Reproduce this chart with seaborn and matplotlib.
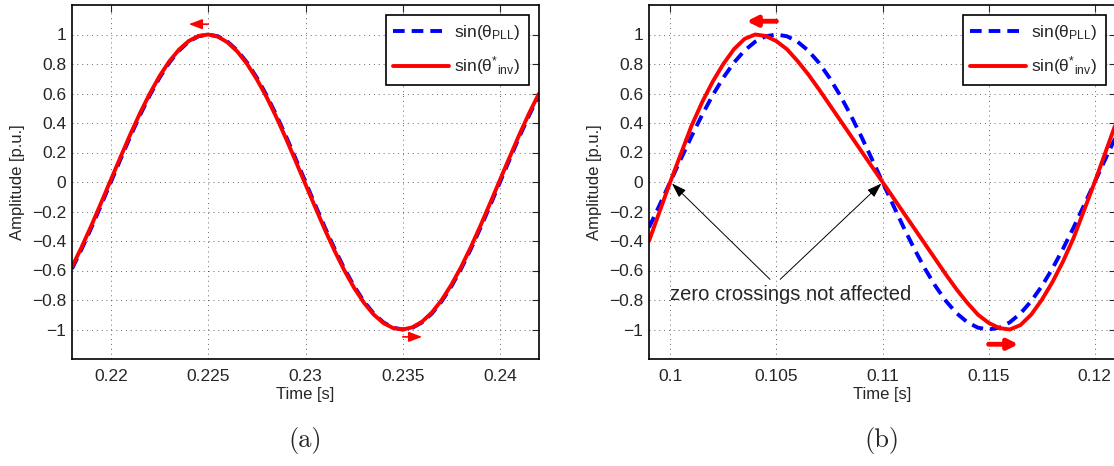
import numpy as np
import pandas as pd
import matplotlib
matplotlib.use('Agg')
import matplotlib.pyplot as plt
import seaborn as sns

sns.set_style('white')
plt.rcParams['font.family'] = ['Liberation Sans', 'DejaVu Sans']
plt.rcParams['mathtext.fontset'] = 'custom'
plt.rcParams['mathtext.rm'] = 'Liberation Sans'
plt.rcParams['mathtext.it'] = 'Liberation Sans:italic'

# panel (a): PLL e inversor praticamente sobrepostos
t_a = [0.218 + 0.0005 * k for k in range(49)]
pll_a = [-0.588, -0.454, -0.309, -0.156, 0.0, 0.156, 0.309, 0.454, 0.588, 0.707,
         0.809, 0.891, 0.951, 0.988, 1.0, 0.988, 0.951, 0.891, 0.809, 0.707,
         0.588, 0.454, 0.309, 0.156, 0.0, -0.156, -0.309, -0.454, -0.588, -0.707,
         -0.809, -0.891, -0.951, -0.988, -1.0, -0.988, -0.951, -0.891, -0.809, -0.707,
         -0.588, -0.454, -0.309, -0.156, 0.0, 0.156, 0.309, 0.454, 0.588]
inv_a = [-0.576, -0.440, -0.294, -0.140, 0.016, 0.171, 0.324, 0.468, 0.600, 0.718,
         0.818, 0.898, 0.956, 0.990, 1.0, 0.985, 0.946, 0.884, 0.800, 0.696,
         0.576, 0.440, 0.294, 0.140, -0.016, -0.171, -0.324, -0.468, -0.600, -0.718,
         -0.818, -0.898, -0.956, -0.990, -1.0, -0.985, -0.946, -0.884, -0.800, -0.696,
         -0.576, -0.440, -0.294, -0.140, 0.016, 0.171, 0.324, 0.468, 0.600]

# panel (b): inversor distorcido, mesmos cruzamentos por zero
t_b = [0.099 + 0.0005 * k for k in range(45)]
pll_b = [-0.309, -0.156, 0.0, 0.156, 0.309, 0.454, 0.588, 0.707, 0.809, 0.891,
         0.951, 0.988, 1.0, 0.988, 0.951, 0.891, 0.809, 0.707, 0.588, 0.454,
         0.309, 0.156, 0.0, -0.156, -0.309, -0.454, -0.588, -0.707, -0.809, -0.891,
         -0.951, -0.988, -1.0, -0.988, -0.951, -0.891, -0.809, -0.707, -0.588, -0.454,
         -0.309, -0.156, 0.0, 0.156, 0.309]
inv_b = [-0.40, -0.20, 0.0, 0.19, 0.38, 0.54, 0.68, 0.80, 0.90, 0.97,
         1.0, 0.99, 0.955, 0.90, 0.82, 0.73, 0.63, 0.525, 0.42, 0.315,
         0.21, 0.105, 0.0, -0.105, -0.21, -0.315, -0.42, -0.525, -0.63, -0.73,
         -0.82, -0.90, -0.955, -0.99, -1.0, -0.97, -0.90, -0.80, -0.68, -0.54,
         -0.38, -0.19, 0.0, 0.20, 0.40]

yticks = [-1, -0.8, -0.6, -0.4, -0.2, 0, 0.2, 0.4, 0.6, 0.8, 1]
ytick_labels = ['\u22121', '\u22120.8', '\u22120.6', '\u22120.4', '\u22120.2', '0',
                '0.2', '0.4', '0.6', '0.8', '1']
xticks_a = [0.22, 0.225, 0.23, 0.235, 0.24]
xticks_b = [0.1, 0.105, 0.11, 0.115, 0.12]
xlabels_a = ['0.22', '0.225', '0.23', '0.235', '0.24']
xlabels_b = ['0.1', '0.105', '0.11', '0.115', '0.12']

BLUE = '#0000ff'
RED = '#ff0000'

fig = plt.figure(figsize=(11.14, 4.66), dpi=100)
ax_a = fig.add_axes([72 / 1114, 107 / 466, 467 / 1114, 354 / 466])
ax_b = fig.add_axes([649 / 1114, 107 / 466, 467 / 1114, 354 / 466])


def draw_panel(ax, t, pll, inv, xlim, xticks, xlabels):
    df = pd.DataFrame({'t': t, 'pll': pll, 'inv': inv})
    sns.lineplot(data=df, x='t', y='pll', ax=ax, color=BLUE, linewidth=2.8,
                 linestyle=(0, (3, 1.8)), estimator=None, sort=False,
                 label='sin(θ$_{\\mathrm{PLL}}$)')
    sns.lineplot(data=df, x='t', y='inv', ax=ax, color=RED, linewidth=2.8,
                 estimator=None, sort=False,
                 label='sin(θ$^{*}$$_{\\mathrm{inv}}$)')
    ax.set_xlim(*xlim)
    ax.set_ylim(-1.2, 1.2)
    ax.set_xticks(xticks)
    ax.set_xticklabels(xlabels)
    ax.set_yticks(yticks)
    ax.set_yticklabels(ytick_labels)
    ax.tick_params(direction='in', top=True, right=True, length=5, width=0.8,
                   labelsize=12.5)
    ax.tick_params(axis='x', pad=7)
    ax.tick_params(axis='y', pad=4)
    ax.grid(True, color='k', linestyle=(0, (1, 4)), linewidth=0.7, alpha=0.6)
    for sp in ax.spines.values():
        sp.set_color('k')
        sp.set_linewidth(1.2)
    ax.set_xlabel('Time [s]', fontsize=12, labelpad=2)
    ax.set_ylabel('Amplitude [p.u.]', fontsize=12, labelpad=5)
    leg = ax.legend(loc='upper right', fontsize=12.5, handlelength=3.2,
                    borderaxespad=0.6, fancybox=False, framealpha=1,
                    edgecolor='k', handletextpad=0.3, labelspacing=0.7,
                    borderpad=0.45)
    leg.get_frame().set_linewidth(1.2)


draw_panel(ax_a, t_a, pll_a, inv_a, (0.218, 0.242), xticks_a, xlabels_a)
draw_panel(ax_b, t_b, pll_b, inv_b, (0.099, 0.121), xticks_b, xlabels_b)

# setas vermelhas finas (a)
thin = dict(arrowstyle='-|>,head_length=0.8,head_width=0.3', color=RED, lw=1.2,
            shrinkA=0, shrinkB=0)
ax_a.annotate('', xy=(0.2240, 1.07), xytext=(0.2250, 1.07), arrowprops=thin)
ax_a.annotate('', xy=(0.2360, -1.05), xytext=(0.2350, -1.05), arrowprops=thin)

# setas vermelhas grossas (b)
thick = dict(arrowstyle='-|>,head_length=0.6,head_width=0.3', color=RED, lw=3.5,
             shrinkA=0, shrinkB=0)
ax_b.annotate('', xy=(0.1036, 1.09), xytext=(0.1050, 1.09), arrowprops=thick)
ax_b.annotate('', xy=(0.1164, -1.10), xytext=(0.1150, -1.10), arrowprops=thick)

# anotacao dos cruzamentos por zero
blk = dict(arrowstyle='-|>,head_length=0.9,head_width=0.3', color='k', lw=0.7,
           shrinkA=0, shrinkB=0)
ax_b.annotate('', xy=(0.10008, -0.01), xytext=(0.1047, -0.66), arrowprops=blk)
ax_b.annotate('', xy=(0.10995, -0.01), xytext=(0.10518, -0.66), arrowprops=blk)
ax_b.text(0.09997, -0.76, 'zero crossings not affected', fontsize=14.5,
          ha='left', va='center')

fig.text(305 / 1114, 1 - 440 / 466, '(a)', family='cmr10', fontsize=19,
         ha='center', va='center')
fig.text(882 / 1114, 1 - 440 / 466, '(b)', family='cmr10', fontsize=19,
         ha='center', va='center')

fig.savefig('out.png', dpi=100)
